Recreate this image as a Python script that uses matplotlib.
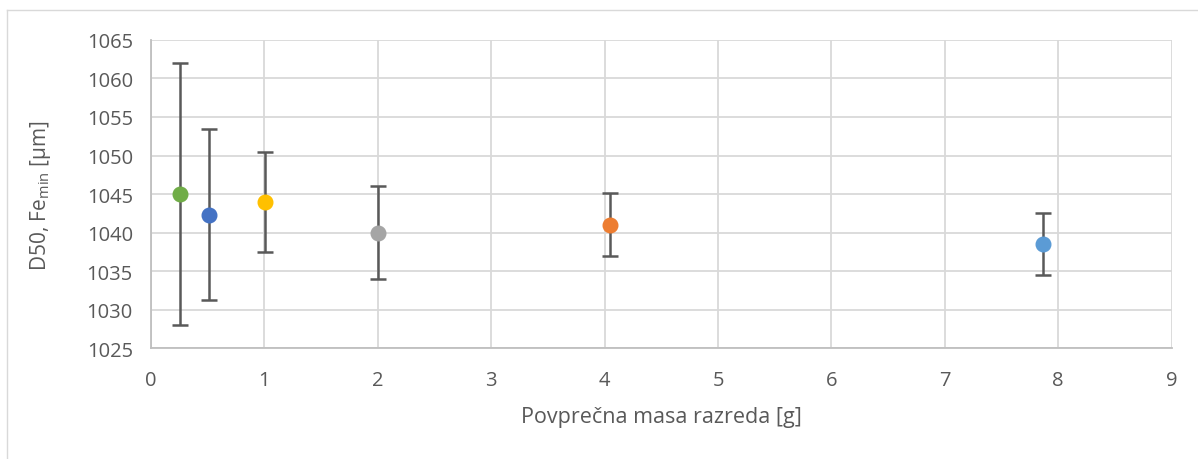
import matplotlib.pyplot as plt
from matplotlib.lines import Line2D

# Data
masa = [0.26, 0.51, 1.01, 2.0, 4.05, 7.87]
d50 = [1045.0, 1042.3, 1044.0, 1040.0, 1041.0, 1038.5]
napaka = [17.0, 11.1, 6.5, 6.0, 4.1, 4.0]
barve = ['#70AD47', '#4472C4', '#FFC000', '#A5A5A5', '#ED7D31', '#5B9BD5']

plt.rcParams['font.family'] = ['Open Sans', 'DejaVu Sans']

fig = plt.figure(figsize=(11.98, 4.6), dpi=100)
ax = fig.add_axes([0.126, 0.241, 0.852, 0.670])

for x, y, e, c in zip(masa, d50, napaka, barve):
    ax.errorbar(x, y, yerr=e, fmt='o', color=c, ms=10.5, mec=c,
                ecolor='#595959', elinewidth=1.8, capsize=6, capthick=1.8, zorder=3)

ax.set_xlim(0, 9)
ax.set_ylim(1025, 1065)
ax.set_xticks(range(0, 10))
ax.set_yticks(range(1025, 1066, 5))
ax.grid(True, color='#D9D9D9', linewidth=1.3)
ax.set_axisbelow(True)
for s in ['top', 'right']:
    ax.spines[s].set_visible(False)
for s in ['left', 'bottom']:
    ax.spines[s].set_color('#BFBFBF')
    ax.spines[s].set_linewidth(1.3)
ax.tick_params(length=0, labelsize=14.5, labelcolor='#595959')
ax.tick_params(axis='x', pad=16)
ax.tick_params(axis='y', pad=13)

ax.set_xlabel('Povprečna masa razreda [g]', fontsize=15.5, color='#595959', labelpad=11)
ax.set_ylabel(r'D50, Fe$_{\mathregular{min}}$ [μm]', fontsize=15, color='#595959', labelpad=24)

# outer chart frame (only top and left edges visible in the reference)
fig.add_artist(Line2D([0.006, 1.0], [0.976, 0.976], transform=fig.transFigure,
                      color='#D9D9D9', linewidth=1))
fig.add_artist(Line2D([0.006, 0.006], [0.0, 0.976], transform=fig.transFigure,
                      color='#D9D9D9', linewidth=1))

fig.savefig('out.png', dpi=100)
